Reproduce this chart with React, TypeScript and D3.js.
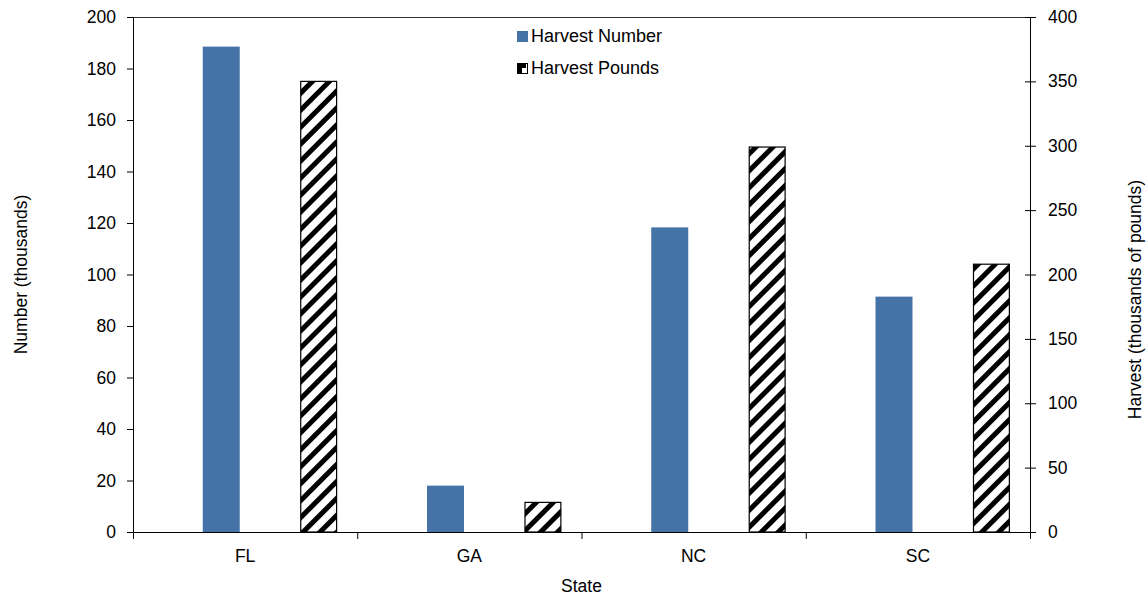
import React from "react";
import * as d3 from "d3";

const states = ["FL", "GA", "NC", "SC"];
const harvestNumber = [188.5, 18, 118.3, 91.4];
const harvestPounds = [350, 23, 299, 208];
const leftTicks = [0, 20, 40, 60, 80, 100, 120, 140, 160, 180, 200];
const rightTicks = [0, 50, 100, 150, 200, 250, 300, 350, 400];

const W = 1148;
const H = 599;
const L = 133;
const R = 1030;
const T = 17;
const B = 532;
const FONT = "Liberation Sans, Arial, sans-serif";
const BLUE = "#4572A7";

export default function App() {
  const x = d3.scaleBand<string>().domain(states).range([L, R]).padding(0);
  const yL = d3.scaleLinear().domain([0, 200]).range([B, T]);
  const yR = d3.scaleLinear().domain([0, 400]).range([B, T]);
  const bw = x.bandwidth();
  const blueOff = bw * 0.311;
  const blueW = bw * 0.165;
  const hatchOff = bw * 0.748;
  const hatchW = bw * 0.16;
  const boundaries = [...states.map((s) => x(s) as number), R];

  return (
    <svg
      width={W}
      height={H}
      style={{ position: "absolute", left: 0, top: 0, background: "#fff" }}
      fontFamily={FONT}
    >
      <defs>
        <pattern
          id="hatch"
          patternUnits="userSpaceOnUse"
          width={12}
          height={12}
          patternTransform="rotate(45)"
        >
          <rect x={0} y={0} width={12} height={12} fill="#fff" />
          <rect x={0} y={0} width={5} height={12} fill="#000" />
        </pattern>
      </defs>

      {/* top border */}
      <line x1={L} x2={R} y1={T + 0.5} y2={T + 0.5} stroke="#333" strokeWidth={1} />

      {/* bars */}
      {states.map((s, i) => (
        <rect
          key={"n" + s}
          x={(x(s) as number) + blueOff}
          y={yL(harvestNumber[i])}
          width={blueW}
          height={B - yL(harvestNumber[i])}
          fill={BLUE}
        />
      ))}
      {states.map((s, i) => (
        <rect
          key={"p" + s}
          x={(x(s) as number) + hatchOff}
          y={yR(harvestPounds[i])}
          width={hatchW}
          height={B - yR(harvestPounds[i])}
          fill="url(#hatch)"
          stroke="#000"
          strokeWidth={1.2}
        />
      ))}

      {/* left axis */}
      <line x1={L + 0.5} x2={L + 0.5} y1={T} y2={B + 6} stroke="#000" />
      {leftTicks.map((t) => (
        <g key={"l" + t}>
          <line x1={L - 6} x2={L} y1={yL(t) + 0.5} y2={yL(t) + 0.5} stroke="#000" />
          <text
            x={L - 17}
            y={yL(t)}
            textAnchor="end"
            dominantBaseline="central"
            fontSize={17.5}
            fill="#000"
          >
            {t}
          </text>
        </g>
      ))}

      {/* right axis */}
      <line x1={R + 0.5} x2={R + 0.5} y1={T} y2={B} stroke="#000" />
      {rightTicks.map((t) => (
        <g key={"r" + t}>
          <line x1={R - 5} x2={R + 6} y1={yR(t) + 0.5} y2={yR(t) + 0.5} stroke="#000" />
          <text
            x={R + 18}
            y={yR(t)}
            textAnchor="start"
            dominantBaseline="central"
            fontSize={17.5}
            fill="#000"
          >
            {t}
          </text>
        </g>
      ))}

      {/* bottom axis */}
      <line x1={L} x2={R} y1={B + 0.5} y2={B + 0.5} stroke="#000" />
      {boundaries.map((bx, i) => (
        <line key={"b" + i} x1={bx + 0.5} x2={bx + 0.5} y1={B} y2={B + 7} stroke="#000" />
      ))}
      {states.map((s) => (
        <text
          key={"c" + s}
          x={(x(s) as number) + bw / 2}
          y={562}
          textAnchor="middle"
          fontSize={17.5}
          fill="#000"
        >
          {s}
        </text>
      ))}

      {/* axis titles */}
      <text x={(L + R) / 2} y={592} textAnchor="middle" fontSize={17.5} fill="#000">
        State
      </text>
      <text
        transform={`translate(21, ${(T + B) / 2}) rotate(-90)`}
        textAnchor="middle"
        dominantBaseline="central"
        fontSize={17.5}
        fill="#000"
      >
        Number (thousands)
      </text>
      <text
        transform={`translate(1135, ${(T + B) / 2 + 25}) rotate(-90)`}
        textAnchor="middle"
        dominantBaseline="central"
        fontSize={17.5}
        fill="#000"
      >
        Harvest (thousands of pounds)
      </text>

      {/* legend */}
      <g>
        <rect x={517} y={31} width={11} height={11} fill={BLUE} />
        <text x={531} y={42} fontSize={18} fill="#000">
          Harvest Number
        </text>
        <rect x={517.5} y={63.5} width={10} height={10} fill="#fff" stroke="#000" strokeWidth={1} />
        <polygon points="518,64 526,64 526,68 522,68 522,73 518,73" fill="#000" />
        <text x={531} y={74} fontSize={18} fill="#000">
          Harvest Pounds
        </text>
      </g>
    </svg>
  );
}
